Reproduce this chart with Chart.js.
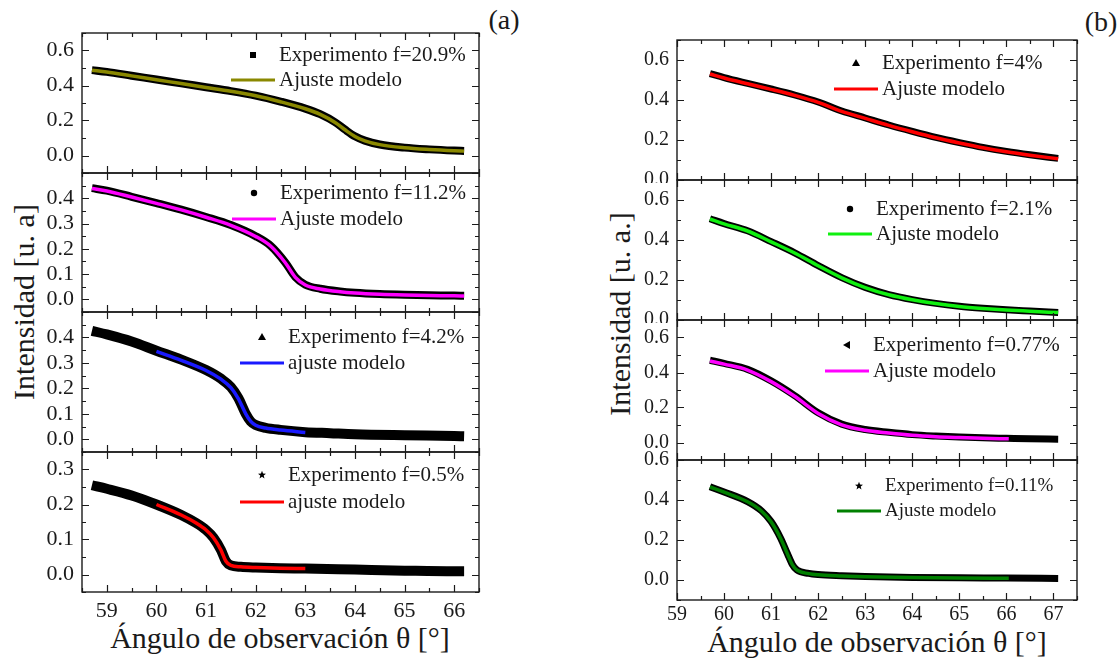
<!DOCTYPE html>
<html>
<head>
<meta charset="utf-8">
<script src="https://cdn.jsdelivr.net/npm/chart.js@4"></script>
<style>
  body { margin: 0; width: 1120px; height: 661px; background: #fff; position: relative; overflow: hidden;
         font-family: "Liberation Serif", "Times New Roman", serif; color: #1a1a1a; }
  .panel { position: absolute; }
  .txt { position: absolute; white-space: nowrap; transform: translate(-50%, -50%); line-height: 1; }
  .ytitle { transform: translate(-50%, -50%) rotate(-90deg); }
</style>
</head>
<body>
<div class="txt ytitle" style="left:24px;top:302px;font-size:30px">Intensidad [u. a]</div>
<div class="txt ytitle" style="left:620px;top:314px;font-size:30px">Intensidad [u. a.]</div>
<div class="txt" style="left:280px;top:638px;font-size:30px">Ángulo de observación θ [°]</div>
<div class="txt" style="left:877px;top:642px;font-size:30px">Ángulo de observación θ [°]</div>
<div class="txt" style="left:504px;top:20px;font-size:28px">(a)</div>
<div class="txt" style="left:1101px;top:22px;font-size:28px">(b)</div>

<script>
// ---- tick labels ----
const xTicksA = [59, 60, 61, 62, 63, 64, 65, 66];
const xTicksB = [59, 60, 61, 62, 63, 64, 65, 66, 67];
const yTicksA1 = [0, 0.2, 0.4, 0.6];
const yTicksA2 = [0, 0.1, 0.2, 0.3, 0.4];
const yTicksA3 = [0, 0.1, 0.2, 0.3, 0.4];
const yTicksA4 = [0, 0.1, 0.2, 0.3];
const yTicksB = [0, 0.2, 0.4, 0.6];

// ---- (a) f = 20.9% ----
const expA1X = [58.7, 59.0, 59.5, 60.0, 60.5, 61.0, 61.5, 62.0, 62.5, 63.0, 63.3, 63.6, 63.8, 64.0, 64.2, 64.5, 65.0, 65.5, 66.0, 66.2];
const expA1Y = [0.488, 0.478, 0.456, 0.434, 0.412, 0.390, 0.368, 0.342, 0.308, 0.268, 0.236, 0.190, 0.148, 0.110, 0.085, 0.063, 0.045, 0.035, 0.028, 0.026];
const fitA1X = [58.7, 59.0, 59.5, 60.0, 60.5, 61.0, 61.5, 62.0, 62.5, 63.0, 63.3, 63.6, 63.8, 64.0, 64.2, 64.5, 65.0, 65.5, 66.0, 66.2];
const fitA1Y = [0.487, 0.477, 0.455, 0.433, 0.411, 0.389, 0.367, 0.341, 0.307, 0.267, 0.235, 0.189, 0.147, 0.109, 0.084, 0.062, 0.044, 0.034, 0.027, 0.025];

// ---- (a) f = 11.2% ----
const expA2X = [58.7, 59.0, 59.5, 60.0, 60.5, 61.0, 61.5, 62.0, 62.3, 62.6, 62.8, 63.0, 63.3, 63.7, 64.0, 64.5, 65.0, 65.5, 66.0, 66.2];
const expA2Y = [0.440, 0.430, 0.406, 0.381, 0.355, 0.326, 0.294, 0.250, 0.212, 0.145, 0.088, 0.058, 0.042, 0.031, 0.026, 0.021, 0.018, 0.016, 0.015, 0.014];
const fitA2X = [58.7, 59.0, 59.5, 60.0, 60.5, 61.0, 61.5, 62.0, 62.3, 62.6, 62.8, 63.0, 63.3, 63.7, 64.0, 64.5, 65.0, 65.5, 66.0, 66.2];
const fitA2Y = [0.439, 0.429, 0.405, 0.380, 0.354, 0.325, 0.293, 0.249, 0.211, 0.144, 0.087, 0.057, 0.041, 0.030, 0.025, 0.020, 0.017, 0.015, 0.014, 0.013];

// ---- (a) f = 4.2% ----
const expA3X = [58.7, 59.0, 59.5, 60.0, 60.5, 61.0, 61.3, 61.5, 61.65, 61.8, 61.9, 62.0, 62.2, 62.5, 63.0, 63.5, 64.0, 65.0, 66.0, 66.2];
const expA3Y = [0.426, 0.412, 0.384, 0.348, 0.313, 0.272, 0.238, 0.205, 0.162, 0.100, 0.070, 0.056, 0.045, 0.037, 0.028, 0.024, 0.020, 0.016, 0.013, 0.012];
const fitA3X = [60.0, 60.5, 61.0, 61.3, 61.5, 61.65, 61.8, 61.9, 62.0, 62.2, 62.5, 63.0];
const fitA3Y = [0.345, 0.310, 0.270, 0.236, 0.203, 0.160, 0.100, 0.070, 0.055, 0.044, 0.036, 0.027];

// ---- (a) f = 0.5% ----
const expA4X = [58.7, 59.0, 59.5, 60.0, 60.5, 60.8, 61.0, 61.15, 61.3, 61.4, 61.5, 61.7, 62.0, 62.5, 63.0, 64.0, 65.0, 66.0, 66.2];
const expA4Y = [0.255, 0.245, 0.226, 0.200, 0.170, 0.147, 0.127, 0.105, 0.070, 0.038, 0.026, 0.022, 0.020, 0.018, 0.017, 0.014, 0.011, 0.009, 0.009];
const fitA4X = [60.0, 60.5, 60.8, 61.0, 61.15, 61.3, 61.4, 61.5, 61.7, 62.0, 62.5, 63.0];
const fitA4Y = [0.200, 0.170, 0.147, 0.127, 0.105, 0.070, 0.038, 0.026, 0.022, 0.020, 0.018, 0.017];

// ---- (b) f = 4% ----
const expB1X = [59.7, 60.0, 60.5, 61.0, 61.5, 62.0, 62.5, 63.0, 63.5, 64.0, 64.5, 65.0, 65.5, 66.0, 66.5, 67.1];
const expB1Y = [0.532, 0.512, 0.483, 0.455, 0.425, 0.390, 0.345, 0.310, 0.275, 0.243, 0.213, 0.187, 0.163, 0.143, 0.126, 0.108];
const fitB1X = [59.7, 60.0, 60.5, 61.0, 61.5, 62.0, 62.5, 63.0, 63.5, 64.0, 64.5, 65.0, 65.5, 66.0, 66.5, 67.1];
const fitB1Y = [0.530, 0.510, 0.481, 0.453, 0.423, 0.388, 0.343, 0.308, 0.273, 0.241, 0.211, 0.185, 0.161, 0.141, 0.124, 0.106];

// ---- (b) f = 2.1% ----
const expB2X = [59.7, 60.0, 60.5, 61.0, 61.5, 62.0, 62.5, 63.0, 63.5, 64.0, 64.5, 65.0, 65.5, 66.0, 66.5, 67.1];
const expB2Y = [0.506, 0.482, 0.446, 0.392, 0.336, 0.272, 0.212, 0.163, 0.127, 0.102, 0.083, 0.069, 0.059, 0.051, 0.045, 0.038];
const fitB2X = [59.7, 60.0, 60.5, 61.0, 61.5, 62.0, 62.5, 63.0, 63.5, 64.0, 64.5, 65.0, 65.5, 66.0, 66.5, 67.1];
const fitB2Y = [0.505, 0.481, 0.445, 0.391, 0.335, 0.271, 0.211, 0.162, 0.126, 0.101, 0.082, 0.068, 0.058, 0.050, 0.044, 0.037];

// ---- (b) f = 0.77% ----
const expB3X = [59.7, 60.0, 60.5, 61.0, 61.5, 62.0, 62.5, 63.0, 63.5, 64.0, 64.5, 65.0, 65.5, 66.0, 66.5, 67.1];
const expB3Y = [0.470, 0.452, 0.418, 0.352, 0.268, 0.170, 0.105, 0.074, 0.058, 0.045, 0.037, 0.031, 0.027, 0.024, 0.021, 0.019];
const fitB3X = [59.7, 60.0, 60.5, 61.0, 61.5, 62.0, 62.5, 63.0, 63.5, 64.0, 64.5, 65.0, 65.5, 66.05];
const fitB3Y = [0.466, 0.448, 0.414, 0.348, 0.264, 0.166, 0.101, 0.070, 0.054, 0.041, 0.033, 0.028, 0.024, 0.021];

// ---- (b) f = 0.11% ----
const expB4X = [59.7, 60.0, 60.5, 60.8, 61.0, 61.2, 61.35, 61.45, 61.55, 61.8, 62.0, 62.5, 63.0, 64.0, 65.0, 66.0, 67.1];
const expB4Y = [0.466, 0.440, 0.392, 0.345, 0.292, 0.210, 0.130, 0.078, 0.050, 0.033, 0.027, 0.021, 0.017, 0.013, 0.011, 0.010, 0.008];
const fitB4X = [59.7, 60.0, 60.5, 60.8, 61.0, 61.2, 61.35, 61.45, 61.55, 61.8, 62.0, 62.5, 63.0, 64.0, 65.0, 66.05];
const fitB4Y = [0.465, 0.439, 0.391, 0.344, 0.291, 0.209, 0.129, 0.077, 0.049, 0.032, 0.026, 0.020, 0.016, 0.012, 0.010, 0.009];

const AXIS_W = 80;   // room for y tick labels left of each frame
const XAXIS_H = 40;  // room for x tick labels under bottom frames
const PAD = 3;
const SERIF = "'Liberation Serif', 'Times New Roman', serif";

Chart.defaults.font.family = SERIF;
Chart.defaults.color = '#1a1a1a';

const colA = { left: 82, right: 479, xMin: 58.5, xMax: 66.5, tickSize: 22, xPad: 6 };
const colB = { left: 677, right: 1077, xMin: 59, xMax: 67.5, tickSize: 20, xPad: 3 };

const panels = [
  { col: colA, top: 33, bottom: 173, yMin: -0.1, yMax: 0.7, yTicks: yTicksA1, yMajor: 0.2, yMinor: 0.1,
    exp: [expA1X, expA1Y], fit: [fitA1X, fitA1Y], color: '#8a8800', band: 8, marker: 'rect',
    expLabel: 'Experimento f=20.9%', fitLabel: 'Ajuste modelo', lg: { dx: 197, dy1: 22, dy2: 47, size: 21 } },
  { col: colA, top: 173, bottom: 312, yMin: -0.05, yMax: 0.5, yTicks: yTicksA2, yMajor: 0.1, yMinor: 0.05,
    exp: [expA2X, expA2Y], fit: [fitA2X, fitA2Y], color: '#ff00ff', band: 8, marker: 'circle',
    expLabel: 'Experimento f=11.2%', fitLabel: 'Ajuste modelo', lg: { dx: 198, dy1: 20, dy2: 46, size: 21 } },
  { col: colA, top: 312, bottom: 452, yMin: -0.05, yMax: 0.5, yTicks: yTicksA3, yMajor: 0.1, yMinor: 0.05,
    exp: [expA3X, expA3Y], fit: [fitA3X, fitA3Y], color: '#1a1aff', band: 10, marker: 'triangle',
    expLabel: 'Experimento f=4.2%', fitLabel: 'ajuste modelo', lg: { dx: 206, dy1: 25, dy2: 51, size: 21 } },
  { col: colA, top: 452, bottom: 592, yMin: -0.05, yMax: 0.35, yTicks: yTicksA4, yMajor: 0.1, yMinor: 0.05,
    exp: [expA4X, expA4Y], fit: [fitA4X, fitA4Y], color: '#ff0000', band: 10, marker: 'star',
    expLabel: 'Experimento f=0.5%', fitLabel: 'ajuste modelo', lg: { dx: 206, dy1: 23, dy2: 50, size: 21 },
    xTicks: xTicksA },
  { col: colB, top: 40, bottom: 180, yMin: 0, yMax: 0.7, yTicks: yTicksB, yMajor: 0.2, yMinor: 0.1,
    exp: [expB1X, expB1Y], fit: [fitB1X, fitB1Y], color: '#ff0000', band: 7, marker: 'triangle',
    expLabel: 'Experimento f=4%', fitLabel: 'Ajuste modelo', lg: { dx: 205, dy1: 23, dy2: 49, size: 21 } },
  { col: colB, top: 180, bottom: 320, yMin: 0, yMax: 0.7, yTicks: yTicksB, yMajor: 0.2, yMinor: 0.1,
    exp: [expB2X, expB2Y], fit: [fitB2X, fitB2Y], color: '#10f010', band: 7, marker: 'circle',
    expLabel: 'Experimento f=2.1%', fitLabel: 'Ajuste modelo', lg: { dx: 199, dy1: 29, dy2: 54, size: 21 } },
  { col: colB, top: 320, bottom: 460, yMin: -0.1, yMax: 0.7, yTicks: yTicksB, yMajor: 0.2, yMinor: 0.1,
    exp: [expB3X, expB3Y], fit: [fitB3X, fitB3Y], color: '#ff00ff', band: 7, marker: 'leftTriangle',
    expLabel: 'Experimento f=0.77%', fitLabel: 'Ajuste modelo', lg: { dx: 196, dy1: 25, dy2: 51, size: 21 } },
  { col: colB, top: 460, bottom: 600, yMin: -0.1, yMax: 0.6, yTicks: yTicksB, yMajor: 0.2, yMinor: 0.1,
    exp: [expB4X, expB4Y], fit: [fitB4X, fitB4Y], color: '#008000', band: 7, marker: 'star',
    expLabel: 'Experimento f=0.11%', fitLabel: 'Ajuste modelo', lg: { dx: 208, dy1: 26, dy2: 51, size: 19 },
    xTicks: xTicksB, padTop: 10 }
];

const near = (v, step) => Math.abs(v / step - Math.round(v / step)) < 1e-6;

// Origin-like frame with inward ticks on all four sides
const framePlugin = {
  id: 'originFrame',
  afterDatasetsDraw(chart, args, opts) {
    const { ctx, chartArea: a, scales: { x, y } } = chart;
    ctx.save();
    ctx.strokeStyle = '#1a1a1a';
    ctx.lineWidth = 1.4;
    ctx.strokeRect(a.left, a.top, a.right - a.left, a.bottom - a.top);
    ctx.lineWidth = 1.2;
    ctx.beginPath();
    for (let v = Math.ceil(x.min * 2) / 2; v <= x.max + 1e-9; v += 0.5) {
      const px = Math.round(x.getPixelForValue(v)) + 0.5;
      const len = near(v, 1) ? 7 : 4;
      ctx.moveTo(px, a.top); ctx.lineTo(px, a.top + len);
      ctx.moveTo(px, a.bottom); ctx.lineTo(px, a.bottom - len);
    }
    const st = opts.minor;
    for (let k = Math.ceil(y.min / st - 1e-6); k * st <= y.max + 1e-9; k++) {
      const v = k * st;
      const py = Math.round(y.getPixelForValue(v)) + 0.5;
      const len = near(v, opts.major) ? 7 : 4;
      ctx.moveTo(a.left, py); ctx.lineTo(a.left + len, py);
      ctx.moveTo(a.right, py); ctx.lineTo(a.right - len, py);
    }
    ctx.stroke();
    ctx.restore();
  }
};

function drawMarker(ctx, kind, cx, cy) {
  ctx.beginPath();
  if (kind === 'rect') {
    ctx.rect(cx - 3, cy - 3, 6, 6);
  } else if (kind === 'circle') {
    ctx.arc(cx, cy, 3.2, 0, Math.PI * 2);
  } else if (kind === 'triangle') {
    ctx.moveTo(cx, cy - 4); ctx.lineTo(cx + 4, cy + 3); ctx.lineTo(cx - 4, cy + 3);
  } else if (kind === 'leftTriangle') {
    ctx.moveTo(cx - 4, cy); ctx.lineTo(cx + 3, cy - 4); ctx.lineTo(cx + 3, cy + 4);
  } else {
    for (let i = 0; i < 10; i++) {
      const r = i % 2 ? 1.8 : 4.2;
      const t = -Math.PI / 2 + i * Math.PI / 5;
      ctx[i ? 'lineTo' : 'moveTo'](cx + r * Math.cos(t), cy + r * Math.sin(t));
    }
  }
  ctx.closePath();
  ctx.fill();
}

// legend drawn inside the frame, as in the original figure
const legendPlugin = {
  id: 'panelLegend',
  afterDraw(chart, args, opts) {
    const { ctx, chartArea: a } = chart;
    const exp = chart.data.datasets.find(d => d.role === 'exp');
    const fit = chart.data.datasets.find(d => d.role === 'fit');
    const tx = a.left + opts.dx;
    const y1 = a.top + opts.dy1, y2 = a.top + opts.dy2;
    ctx.save();
    ctx.font = `${opts.size}px ${SERIF}`;
    ctx.fillStyle = '#1a1a1a';
    ctx.textBaseline = 'middle';
    ctx.fillText(exp.label, tx, y1);
    ctx.fillText(fit.label, tx, y2);
    ctx.fillStyle = '#000';
    drawMarker(ctx, opts.marker, tx - 26, y1);
    ctx.strokeStyle = fit.borderColor;
    ctx.lineWidth = 3;
    ctx.beginPath();
    ctx.moveTo(tx - 48, y2); ctx.lineTo(tx - 4, y2);
    ctx.stroke();
    ctx.restore();
  }
};

const pts = (xs, ys) => xs.map((x, i) => ({ x, y: ys[i] }));

function makePanel(p) {
  const c = p.col;
  const bottomRow = !!p.xTicks;
  const padTop = p.padTop || PAD;
  const w = AXIS_W + (c.right - c.left) + PAD;
  const h = padTop + (p.bottom - p.top) + (bottomRow ? XAXIS_H : PAD);
  const wrap = document.createElement('div');
  wrap.className = 'panel';
  wrap.style.cssText = `left:${c.left - AXIS_W}px;top:${p.top - padTop}px;width:${w}px;height:${h}px`;
  const canvas = document.createElement('canvas');
  canvas.width = w;
  canvas.height = h;
  wrap.appendChild(canvas);
  document.body.appendChild(wrap);

  const tickFont = { family: SERIF, size: c.tickSize };
  new Chart(canvas, {
    type: 'line',
    data: {
      datasets: [
        { role: 'fit', label: p.fitLabel, data: pts(p.fit[0], p.fit[1]), borderColor: p.color,
          borderWidth: 3.5, pointRadius: 0, cubicInterpolationMode: 'monotone', order: 0 },
        { role: 'exp', label: p.expLabel, data: pts(p.exp[0], p.exp[1]), borderColor: '#000',
          borderWidth: p.band, pointRadius: 0, cubicInterpolationMode: 'monotone', order: 1 }
      ]
    },
    options: {
      responsive: false,
      animation: false,
      layout: { autoPadding: false, padding: { top: padTop, right: PAD, bottom: bottomRow ? 0 : PAD, left: 0 } },
      plugins: {
        legend: { display: false },
        tooltip: { enabled: false },
        originFrame: { major: p.yMajor, minor: p.yMinor },
        panelLegend: Object.assign({ marker: p.marker }, p.lg)
      },
      scales: {
        x: {
          type: 'linear', min: c.xMin, max: c.xMax, display: bottomRow,
          grid: { display: false, drawTicks: false }, border: { display: false },
          ticks: { font: tickFont, color: '#1a1a1a', padding: c.xPad, autoSkip: false, maxRotation: 0,
                   callback: v => String(v) },
          afterBuildTicks: s => { if (p.xTicks) s.ticks = p.xTicks.map(v => ({ value: v })); },
          afterFit: s => { s.height = bottomRow ? XAXIS_H : 0; s.paddingLeft = 0; s.paddingRight = 0; }
        },
        y: {
          type: 'linear', min: p.yMin, max: p.yMax,
          grid: { display: false, drawTicks: false }, border: { display: false },
          ticks: { font: tickFont, color: '#1a1a1a', padding: 8, autoSkip: false,
                   callback: v => Number(v).toFixed(1) },
          afterBuildTicks: s => { s.ticks = p.yTicks.map(v => ({ value: v })); },
          afterFit: s => { s.width = AXIS_W; s.paddingTop = 0; s.paddingBottom = 0; }
        }
      }
    },
    plugins: [framePlugin, legendPlugin]
  });
}

panels.forEach(makePanel);
</script>
</body>
</html>
